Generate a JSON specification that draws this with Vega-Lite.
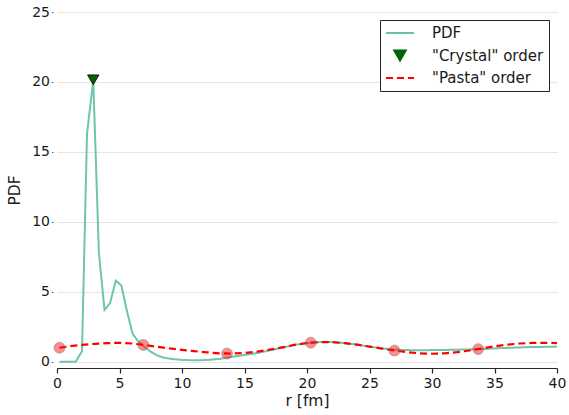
{
  "$schema": "https://vega.github.io/schema/vega-lite/v6.json",
  "width": 500,
  "height": 356,
  "autosize": {"type": "none"},
  "padding": {"left": 57, "top": 12, "right": 12, "bottom": 47},
  "config": {
    "font": "DejaVu Sans",
    "view": {"stroke": null},
    "axis": {
      "labelFont": "DejaVu Sans",
      "labelFontSize": 14,
      "labelColor": "#1a1a1a",
      "labelFlush": false,
      "titleFont": "DejaVu Sans",
      "titleFontSize": 15.5,
      "titleFontWeight": "normal",
      "titleColor": "#1a1a1a"
    },
    "legend": {
      "labelFont": "DejaVu Sans",
      "labelFontSize": 15,
      "labelColor": "#1a1a1a",
      "title": null,
      "orient": "top-right",
      "offset": 8,
      "strokeColor": "#222222",
      "fillColor": "white",
      "cornerRadius": 0,
      "padding": 5,
      "rowPadding": 6.5,
      "clipHeight": 16,
      "symbolStrokeWidth": 2,
      "symbolOpacity": 1,
      "labelOffset": 17
    }
  },
  "datasets": {
    "pdf": [
      {"r": 0.2, "pdf": 0, "series": "PDF"},
      {"r": 0.6, "pdf": 0, "series": "PDF"},
      {"r": 1.0, "pdf": 0, "series": "PDF"},
      {"r": 1.5, "pdf": 0, "series": "PDF"},
      {"r": 2.0, "pdf": 0.75, "series": "PDF"},
      {"r": 2.4, "pdf": 16.3, "series": "PDF"},
      {"r": 2.9, "pdf": 20.1, "series": "PDF"},
      {"r": 3.35, "pdf": 7.8, "series": "PDF"},
      {"r": 3.8, "pdf": 3.7, "series": "PDF"},
      {"r": 4.25, "pdf": 4.2, "series": "PDF"},
      {"r": 4.7, "pdf": 5.8, "series": "PDF"},
      {"r": 5.15, "pdf": 5.45, "series": "PDF"},
      {"r": 5.6, "pdf": 3.6, "series": "PDF"},
      {"r": 6.05, "pdf": 2.0, "series": "PDF"},
      {"r": 6.5, "pdf": 1.45, "series": "PDF"},
      {"r": 7.0, "pdf": 1.05, "series": "PDF"},
      {"r": 7.45, "pdf": 0.75, "series": "PDF"},
      {"r": 8.0, "pdf": 0.45, "series": "PDF"},
      {"r": 8.5, "pdf": 0.3, "series": "PDF"},
      {"r": 9.0, "pdf": 0.22, "series": "PDF"},
      {"r": 9.5, "pdf": 0.17, "series": "PDF"},
      {"r": 10.0, "pdf": 0.13, "series": "PDF"},
      {"r": 11, "pdf": 0.1, "series": "PDF"},
      {"r": 12, "pdf": 0.12, "series": "PDF"},
      {"r": 13, "pdf": 0.2, "series": "PDF"},
      {"r": 14, "pdf": 0.35, "series": "PDF"},
      {"r": 15, "pdf": 0.48, "series": "PDF"},
      {"r": 16, "pdf": 0.62, "series": "PDF"},
      {"r": 17, "pdf": 0.8, "series": "PDF"},
      {"r": 18, "pdf": 1.0, "series": "PDF"},
      {"r": 19, "pdf": 1.2, "series": "PDF"},
      {"r": 20, "pdf": 1.33, "series": "PDF"},
      {"r": 21, "pdf": 1.4, "series": "PDF"},
      {"r": 22, "pdf": 1.4, "series": "PDF"},
      {"r": 23, "pdf": 1.33, "series": "PDF"},
      {"r": 24, "pdf": 1.22, "series": "PDF"},
      {"r": 25, "pdf": 1.08, "series": "PDF"},
      {"r": 26, "pdf": 0.95, "series": "PDF"},
      {"r": 27, "pdf": 0.86, "series": "PDF"},
      {"r": 28, "pdf": 0.83, "series": "PDF"},
      {"r": 29, "pdf": 0.82, "series": "PDF"},
      {"r": 30, "pdf": 0.83, "series": "PDF"},
      {"r": 31, "pdf": 0.84, "series": "PDF"},
      {"r": 32, "pdf": 0.86, "series": "PDF"},
      {"r": 33, "pdf": 0.88, "series": "PDF"},
      {"r": 34, "pdf": 0.91, "series": "PDF"},
      {"r": 35, "pdf": 0.95, "series": "PDF"},
      {"r": 36, "pdf": 0.99, "series": "PDF"},
      {"r": 37, "pdf": 1.02, "series": "PDF"},
      {"r": 38, "pdf": 1.05, "series": "PDF"},
      {"r": 39, "pdf": 1.06, "series": "PDF"},
      {"r": 40, "pdf": 1.07, "series": "PDF"}
    ],
    "pasta": [
      {"r": 0.2, "pdf": 1.0, "series": "\"Pasta\" order"},
      {"r": 1, "pdf": 1.1, "series": "\"Pasta\" order"},
      {"r": 2, "pdf": 1.2, "series": "\"Pasta\" order"},
      {"r": 3, "pdf": 1.28, "series": "\"Pasta\" order"},
      {"r": 4, "pdf": 1.33, "series": "\"Pasta\" order"},
      {"r": 5, "pdf": 1.35, "series": "\"Pasta\" order"},
      {"r": 6, "pdf": 1.3, "series": "\"Pasta\" order"},
      {"r": 7, "pdf": 1.2, "series": "\"Pasta\" order"},
      {"r": 8, "pdf": 1.07, "series": "\"Pasta\" order"},
      {"r": 9, "pdf": 0.95, "series": "\"Pasta\" order"},
      {"r": 10, "pdf": 0.85, "series": "\"Pasta\" order"},
      {"r": 11, "pdf": 0.75, "series": "\"Pasta\" order"},
      {"r": 12, "pdf": 0.67, "series": "\"Pasta\" order"},
      {"r": 13, "pdf": 0.6, "series": "\"Pasta\" order"},
      {"r": 14, "pdf": 0.58, "series": "\"Pasta\" order"},
      {"r": 15, "pdf": 0.62, "series": "\"Pasta\" order"},
      {"r": 16, "pdf": 0.72, "series": "\"Pasta\" order"},
      {"r": 17, "pdf": 0.86, "series": "\"Pasta\" order"},
      {"r": 18, "pdf": 1.02, "series": "\"Pasta\" order"},
      {"r": 19, "pdf": 1.2, "series": "\"Pasta\" order"},
      {"r": 20, "pdf": 1.34, "series": "\"Pasta\" order"},
      {"r": 21, "pdf": 1.4, "series": "\"Pasta\" order"},
      {"r": 22, "pdf": 1.4, "series": "\"Pasta\" order"},
      {"r": 23, "pdf": 1.33, "series": "\"Pasta\" order"},
      {"r": 24, "pdf": 1.22, "series": "\"Pasta\" order"},
      {"r": 25, "pdf": 1.08, "series": "\"Pasta\" order"},
      {"r": 26, "pdf": 0.94, "series": "\"Pasta\" order"},
      {"r": 27, "pdf": 0.8, "series": "\"Pasta\" order"},
      {"r": 28, "pdf": 0.68, "series": "\"Pasta\" order"},
      {"r": 29, "pdf": 0.6, "series": "\"Pasta\" order"},
      {"r": 30, "pdf": 0.57, "series": "\"Pasta\" order"},
      {"r": 31, "pdf": 0.6, "series": "\"Pasta\" order"},
      {"r": 32, "pdf": 0.68, "series": "\"Pasta\" order"},
      {"r": 33, "pdf": 0.8, "series": "\"Pasta\" order"},
      {"r": 34, "pdf": 0.95, "series": "\"Pasta\" order"},
      {"r": 35, "pdf": 1.1, "series": "\"Pasta\" order"},
      {"r": 36, "pdf": 1.22, "series": "\"Pasta\" order"},
      {"r": 37, "pdf": 1.3, "series": "\"Pasta\" order"},
      {"r": 38, "pdf": 1.34, "series": "\"Pasta\" order"},
      {"r": 39, "pdf": 1.35, "series": "\"Pasta\" order"},
      {"r": 40, "pdf": 1.33, "series": "\"Pasta\" order"}
    ],
    "pasta_sites": [
      {"r": 0.2, "pdf": 1.0},
      {"r": 6.9, "pdf": 1.2},
      {"r": 13.6, "pdf": 0.58},
      {"r": 20.3, "pdf": 1.36},
      {"r": 27.0, "pdf": 0.8},
      {"r": 33.7, "pdf": 0.9}
    ],
    "crystal": [
      {"r": 2.9, "pdf": 20.15, "series": "\"Crystal\" order"}
    ]
  },
  "encoding": {
    "x": {
      "field": "r",
      "type": "quantitative",
      "scale": {"domain": [0, 40], "nice": false, "zero": false},
      "axis": {
        "title": "r [fm]",
        "values": [0, 5, 10, 15, 20, 25, 30, 35, 40],
        "grid": false,
        "domainColor": "#262626",
        "domainWidth": 1.2,
        "tickColor": "#262626",
        "tickSize": 5,
        "tickWidth": 1.2,
        "labelPadding": 3,
        "titlePadding": 3
      }
    },
    "y": {
      "field": "pdf",
      "type": "quantitative",
      "scale": {"domain": [-0.45, 25], "nice": false, "zero": false},
      "axis": {
        "title": "PDF",
        "values": [0, 5, 10, 15, 20, 25],
        "grid": true,
        "gridColor": "#e5e5e5",
        "gridWidth": 1.2,
        "domain": false,
        "offset": 4,
        "tickSize": 1.5,
        "tickColor": "#555555",
        "labelPadding": 2,
        "titlePadding": 9
      }
    }
  },
  "layer": [
    {
      "data": {"name": "pdf"},
      "mark": {"type": "line", "strokeWidth": 2, "opacity": 0.95},
      "encoding": {
        "color": {
          "field": "series",
          "type": "nominal",
          "scale": {
            "domain": ["PDF", "\"Crystal\" order", "\"Pasta\" order"],
            "range": ["#66c2a5", "#006400", "#ff0000"]
          }
        },
        "strokeDash": {
          "field": "series",
          "type": "nominal",
          "scale": {
            "domain": ["PDF", "\"Crystal\" order", "\"Pasta\" order"],
            "range": [[1, 0], [1, 0], [7, 4]]
          }
        }
      }
    },
    {
      "data": {"name": "pasta"},
      "mark": {"type": "line", "strokeWidth": 2.2},
      "encoding": {
        "color": {"field": "series", "type": "nominal"},
        "strokeDash": {"field": "series", "type": "nominal"}
      }
    },
    {
      "data": {"name": "pasta_sites"},
      "mark": {
        "type": "point",
        "shape": "circle",
        "filled": true,
        "size": 120,
        "fill": "#ff0000",
        "fillOpacity": 0.45,
        "stroke": "#808080",
        "strokeOpacity": 0.5,
        "strokeWidth": 1
      },
      "encoding": {}
    },
    {
      "data": {"name": "crystal"},
      "mark": {
        "type": "point",
        "filled": true,
        "opacity": 1,
        "stroke": "black",
        "strokeWidth": 0.8
      },
      "encoding": {
        "color": {"field": "series", "type": "nominal"},
        "shape": {
          "field": "series",
          "type": "nominal",
          "scale": {
            "domain": ["PDF", "\"Crystal\" order", "\"Pasta\" order"],
            "range": ["stroke", "triangle-down", "stroke"]
          }
        },
        "size": {
          "field": "series",
          "type": "nominal",
          "scale": {
            "type": "ordinal",
            "domain": ["PDF", "\"Crystal\" order", "\"Pasta\" order"],
            "range": [784, 130, 784]
          }
        }
      }
    }
  ]
}
